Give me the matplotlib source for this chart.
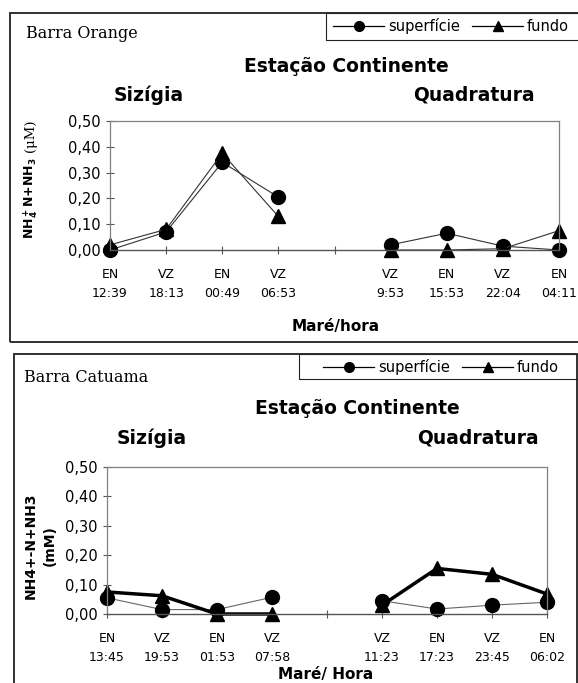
import numpy as np
import matplotlib.pyplot as plt
from matplotlib.patches import Rectangle
from matplotlib.lines import Line2D

# data (position 4 is the empty slot between tides)
nan = np.nan
labels_orange = ['EN\n12:39', 'VZ\n18:13', 'EN\n00:49', 'VZ\n06:53', '',
                 'VZ\n9:53', 'EN\n15:53', 'VZ\n22:04', 'EN\n04:11']
sup_orange = [0.00, 0.07, 0.34, 0.205, nan, 0.02, 0.065, 0.015, 0.00]
fundo_orange = [0.02, 0.08, 0.375, 0.13, nan, 0.00, 0.00, 0.005, 0.075]

labels_catuama = ['EN\n13:45', 'VZ\n19:53', 'EN\n01:53', 'VZ\n07:58', '',
                  'VZ\n11:23', 'EN\n17:23', 'VZ\n23:45', 'EN\n06:02']
sup_catuama = [0.055, 0.015, 0.015, 0.057, nan, 0.045, 0.017, 0.03, 0.04]
fundo_catuama = [0.075, 0.062, 0.00, 0.00, nan, 0.03, 0.155, 0.135, 0.068]

yticks = [0.0, 0.1, 0.2, 0.3, 0.4, 0.5]
ytick_labels = ['0,00', '0,10', '0,20', '0,30', '0,40', '0,50']

W, H = 578, 683
fig = plt.figure(figsize=(W / 100, H / 100), dpi=100)


def fx(x):
    return x / W


def fy(y):
    return 1 - y / H


def add_axes(left, right, top, bottom):
    return fig.add_axes([fx(left), fy(bottom), (right - left) / W, (bottom - top) / H])


def style_axes(ax, labels):
    x = np.arange(len(labels))
    ax.set_xlim(0, 8)
    ax.set_ylim(0, 0.5)
    ax.set_xticks(x)
    ax.set_xticklabels(labels, fontsize=9, linespacing=1.55)
    ax.set_yticks(yticks)
    ax.set_yticklabels(ytick_labels, fontsize=10.5)
    ax.tick_params(axis='both', direction='inout', length=6, width=0.8, color='#555555')
    ax.tick_params(axis='x', pad=10)
    ax.tick_params(axis='y', pad=4)
    for s in ['top', 'right', 'left']:
        ax.spines[s].set_color('#808080')
        ax.spines[s].set_linewidth(0.9)
    ax.spines['bottom'].set_color('#555555')
    ax.spines['bottom'].set_linewidth(1.0)
    return x


def outer_frame(left, right, top, bottom, lw=1.3):
    fig.patches.append(Rectangle((fx(left), fy(bottom)), (right - left) / W, (bottom - top) / H,
                                 transform=fig.transFigure, fill=False,
                                 edgecolor='#222222', linewidth=lw, zorder=0))


def legend_box(left, top, bottom, cx, cy):
    outer_frame(left, 600, top, bottom, lw=0.8)
    h = [Line2D([], [], color='black', lw=0.9, marker='o', markersize=7),
         Line2D([], [], color='black', lw=0.9, marker='^', markersize=7)]
    fig.legend(h, ['superfície', 'fundo'], loc='center', bbox_to_anchor=(fx(cx), fy(cy)),
               ncol=2, frameon=False, fontsize=10.5, handlelength=3.5, handletextpad=0.25,
               columnspacing=0.85, borderpad=0, borderaxespad=0)


mk = dict(markersize=10, clip_on=False, mfc='black', mec='black')

# ---------------- Barra Orange ----------------
outer_frame(10, 600, 13, 342)
legend_box(326, 13, 40, 451, 26)
fig.text(fx(26), fy(33), 'Barra Orange', family='DejaVu Serif', fontsize=11.5, va='center')
fig.text(fx(346), fy(67), 'Estação Continente', fontsize=13.5, fontweight='bold', ha='center', va='center')
fig.text(fx(149), fy(95), 'Sizígia', fontsize=13.5, fontweight='bold', ha='center', va='center')
fig.text(fx(474), fy(95), 'Quadratura', fontsize=13.5, fontweight='bold', ha='center', va='center')

ax1 = add_axes(110, 559, 121, 250)
x = style_axes(ax1, labels_orange)
ax1.plot(x, sup_orange, marker='o', lw=0.8, color='#333333', **mk)
ax1.plot(x, fundo_orange, marker='^', lw=0.8, color='#333333', **mk)
fig.text(fx(31), fy(239), r'$\mathbf{NH_4^+N{+}NH_3}$', fontsize=9, rotation=90,
         ha='center', va='bottom')
fig.text(fx(31), fy(119), '(μM)', family='DejaVu Serif', fontsize=9.5, rotation=90,
         ha='center', va='top')
fig.text(fx(336), fy(327), 'Maré/hora', fontsize=11, fontweight='bold', ha='center', va='center')

# ---------------- Barra Catuama ----------------
outer_frame(14, 577, 354, 720)
legend_box(299, 354, 379, 441, 367)
fig.text(fx(24), fy(377), 'Barra Catuama', family='DejaVu Serif', fontsize=11.5, va='center')
fig.text(fx(357), fy(408), 'Estação Continente', fontsize=13.5, fontweight='bold', ha='center', va='center')
fig.text(fx(152), fy(438), 'Sizígia', fontsize=13.5, fontweight='bold', ha='center', va='center')
fig.text(fx(478), fy(438), 'Quadratura', fontsize=13.5, fontweight='bold', ha='center', va='center')

ax2 = add_axes(107, 547, 467, 614)
x = style_axes(ax2, labels_catuama)
ax2.plot(x, sup_catuama, marker='o', lw=0.8, color='#666666', **mk)
ax2.plot(x, fundo_catuama, marker='^', lw=2.5, color='black', **mk)
fig.text(fx(40), fy(546), 'NH4+-N+NH3\n(mM)', fontsize=10, fontweight='bold', rotation=90,
         ha='center', va='center', linespacing=1.5, multialignment='center')
fig.text(fx(326), fy(675), 'Maré/ Hora', fontsize=11, fontweight='bold', ha='center', va='center')

plt.savefig('out.png', dpi=100)
